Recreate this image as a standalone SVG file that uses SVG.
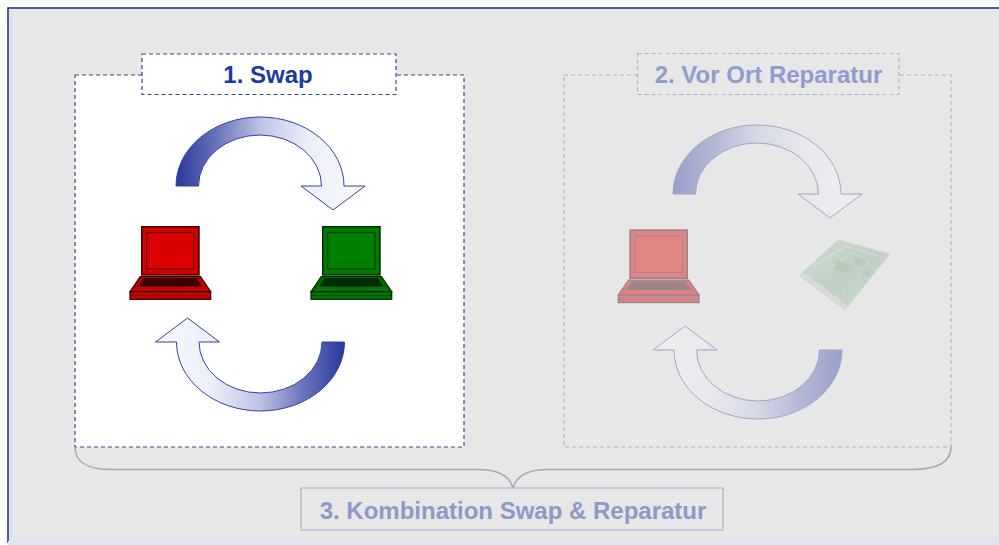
<svg xmlns="http://www.w3.org/2000/svg" width="999" height="545" viewBox="0 0 999 545">
  <defs>
    <style>
      .title { font-family: "Liberation Sans", Arial, sans-serif; font-weight: bold; font-size: 24px; text-anchor: middle; }
      .panel-on { fill: #ffffff; stroke: #3a4888; stroke-width: 1.2; stroke-dasharray: 4 3; }
      .panel-off { fill: #e7e7e7; stroke: #aeb2c8; stroke-width: 1.2; stroke-dasharray: 4 3; }
      .arrow { fill: url(#arrowFill); stroke: #3242a2; stroke-width: 1; }
      .brace { fill: none; stroke: #a4a8bc; stroke-width: 1.6; }
    </style>
    <linearGradient id="arrowFill" x1="0" y1="0" x2="1" y2="0">
      <stop offset="0" stop-color="#2a389c"/>
      <stop offset="0.22" stop-color="#6a74bc"/>
      <stop offset="0.45" stop-color="#bfc4e4"/>
      <stop offset="0.7" stop-color="#eceef8"/>
      <stop offset="1" stop-color="#fafafd"/>
    </linearGradient>
    <linearGradient id="boardFill" x1="0" y1="0" x2="1" y2="1">
      <stop offset="0" stop-color="#b4d0bb"/>
      <stop offset="0.5" stop-color="#98bca2"/>
      <stop offset="1" stop-color="#aecab5"/>
    </linearGradient>
    <!-- curved arrow, centred on the middle of its arc -->
    <path id="curveArrow" class="arrow" d="M -84,0 A 84,69 0 0 1 84,0 L 105,0 L 73,24 L 41,0 L 61.5,0 A 61.5,51 0 0 0 -61.5,0 Z"/>
    <!-- notebook icon, origin at top-left of the lid -->
    <g id="laptopRed">
      <rect x="0" y="0" width="57.3" height="48.3" fill="#d40000" stroke="#2a0000" stroke-width="1.4"/>
      <rect x="5" y="6" width="47.3" height="36.3" fill="#dc0000" stroke="#4a0000" stroke-width="1"/>
      <polygon points="-1.5,50 58.8,50 69,65 -11.7,65" fill="#c40000" stroke="#2a0000" stroke-width="1.2"/>
      <polygon points="2,51.5 55.3,51.5 61,60 -4,60" fill="#3a0000"/>
      <polygon points="-4,60 14,60 12,64 -9,64" fill="#d00000"/>
      <polygon points="43,60 61,60 66,64 45,64" fill="#d00000"/>
      <rect x="-11.7" y="65" width="80.7" height="7.6" fill="#c80000" stroke="#2a0000" stroke-width="1.2"/>
      <line x1="-11" y1="68.8" x2="68.3" y2="68.8" stroke="#6a0000" stroke-width="0.8"/>
    </g>
    <g id="laptopGreen">
      <rect x="0" y="0" width="57.3" height="48.3" fill="#007a00" stroke="#002400" stroke-width="1.4"/>
      <rect x="5" y="6" width="47.3" height="36.3" fill="#008000" stroke="#003000" stroke-width="1"/>
      <polygon points="-1.5,50 58.8,50 69,65 -11.7,65" fill="#007000" stroke="#002400" stroke-width="1.2"/>
      <polygon points="2,51.5 55.3,51.5 61,60 -4,60" fill="#002c00"/>
      <polygon points="-4,60 14,60 12,64 -9,64" fill="#007a00"/>
      <polygon points="43,60 61,60 66,64 45,64" fill="#007a00"/>
      <rect x="-11.7" y="65" width="80.7" height="7.6" fill="#007400" stroke="#002400" stroke-width="1.2"/>
      <line x1="-11" y1="68.8" x2="68.3" y2="68.8" stroke="#004000" stroke-width="0.8"/>
    </g>
  </defs>

  <!-- page frame -->
  <rect x="0" y="0" width="999" height="545" fill="#ffffff"/>
  <rect x="8" y="8" width="1000" height="534" fill="#e7e7e7" stroke="#2b3784" stroke-width="1.6"/>
  <line x1="10" y1="10.5" x2="999" y2="10.5" stroke="#dfe6f3" stroke-width="1.5"/>
  <line x1="10.5" y1="10" x2="10.5" y2="541" stroke="#d6ddf0" stroke-width="1.5"/>
  <rect x="8" y="541" width="991" height="4" fill="#dde6f6"/>

  <!-- panel 1: swap -->
  <g id="panel-swap">
    <rect class="panel-on" x="75" y="75" width="389" height="372"/>
    <rect class="panel-on" x="142" y="54" width="254" height="40.5"/>
    <text class="title" x="268" y="83" fill="#1d3a9e">1. Swap</text>
  </g>
  <g id="swap-laptop-red">
    <use href="#laptopRed" x="141.7" y="226.7"/>
  </g>
  <g id="swap-laptop-green">
    <use href="#laptopGreen" x="322.7" y="226.7"/>
  </g>

  <!-- panel 2: on-site repair (greyed out) -->
  <g id="panel-repair">
    <rect class="panel-off" x="564" y="75" width="387" height="372"/>
    <rect class="panel-off" x="637.5" y="53.5" width="261.5" height="41"/>
    <text class="title" x="768.5" y="83" fill="#8f9ccc">2. Vor Ort Reparatur</text>
  </g>
  <g id="repair-laptop" opacity="0.42">
    <use href="#laptopRed" x="630" y="230"/>
  </g>
  <g id="repair-board" opacity="0.5">
    <polygon points="803,272 838,240 890,254 848,306" fill="url(#boardFill)" stroke="#b8cbbd" stroke-width="1"/>
    <polyline points="814,266 846,246 878,256" fill="none" stroke="#c3d8c8" stroke-width="1.2"/>
    <polyline points="822,273 852,253 870,262 844,290" fill="none" stroke="#bcd3c2" stroke-width="1"/>
    <rect x="835" y="262" width="14" height="9" fill="#86ad91" transform="rotate(15 842 266)"/>
    <rect x="855" y="258" width="10" height="7" fill="#86ad91" transform="rotate(15 860 261)"/>
    <rect x="862" y="270" width="8" height="6" fill="#8fb39a" transform="rotate(15 866 273)"/>
    <polygon points="803,272 848,306 845,310 800,276" fill="#c9d2cc" stroke="#b4bfb8" stroke-width="0.8"/>
  </g>

  <!-- connectors -->
  <g id="connectors">
    <use href="#curveArrow" transform="translate(260,186)"/>
    <use href="#curveArrow" transform="translate(260.5,342) rotate(180)"/>
    <g opacity="0.4">
      <use href="#curveArrow" transform="translate(757,194)"/>
      <use href="#curveArrow" transform="translate(758,350) rotate(180)"/>
    </g>
    <path class="brace" d="M 75,447 C 75,462 86,469.5 112,469.5 L 478,469.5 C 500,469.5 510,477 513,488 C 516,477 526,469.5 548,469.5 L 912,469.5 C 938,469.5 951,462 951,447"/>
  </g>

  <!-- combination -->
  <g id="combination">
    <rect x="301" y="488" width="422" height="42" fill="#e7e7e7" stroke="#b2b6ca" stroke-width="1.2"/>
    <text class="title" x="513" y="519" fill="#8d9ac8">3. Kombination Swap &amp; Reparatur</text>
  </g>
</svg>
